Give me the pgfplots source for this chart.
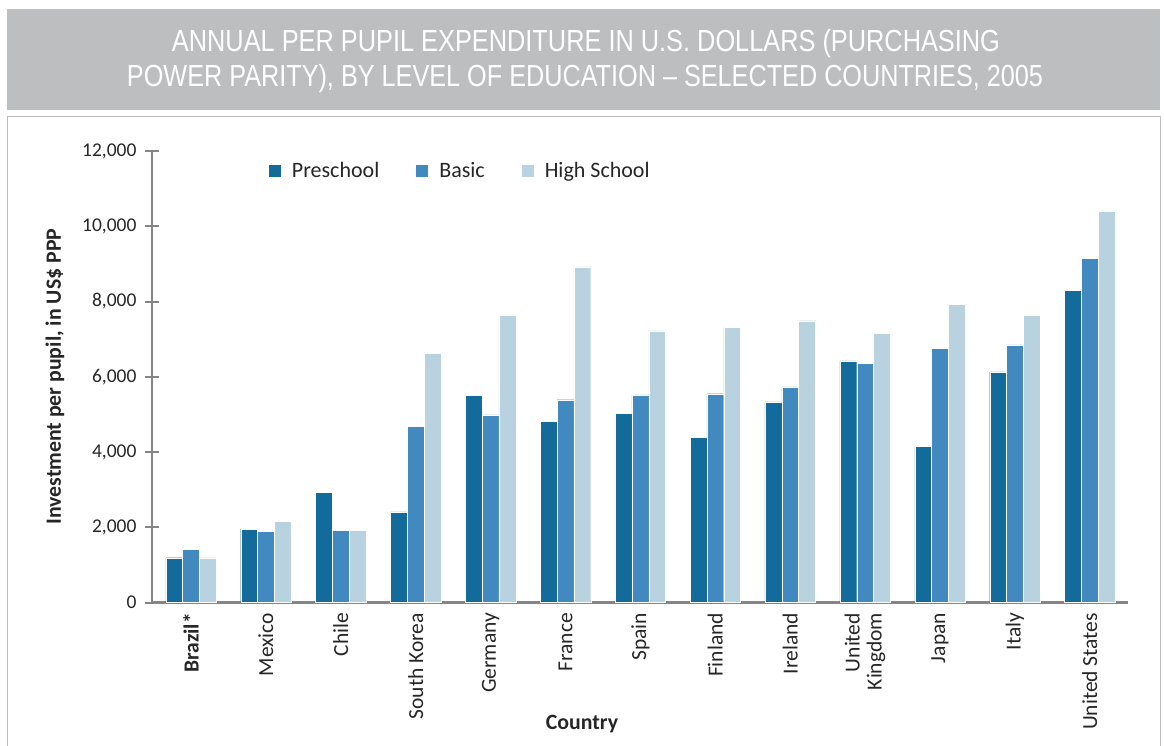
\documentclass[border=0pt]{standalone}
\usepackage{fontspec}
\setmainfont{Carlito}
\newfontfamily\titlefont{Liberation Sans}
\usepackage{graphicx}
\usepackage{pgfplots}
\usepackage{pgfplotstable}
\pgfplotsset{compat=1.18}
\definecolor{preC}{HTML}{126B9A}
\definecolor{basC}{HTML}{4189BE}
\definecolor{hsC}{HTML}{B9D2DF}
\definecolor{axgray}{HTML}{858585}
\definecolor{bannergray}{HTML}{BCBEC0}
\definecolor{framegray}{HTML}{BDBDBD}
\definecolor{txt}{HTML}{262626}

\pgfplotstableread{
x pre basic hs
0  1190 1420 1190
1  1950 1890 2160
2  2930 1920 1920
3  2410 4690 6620
4  5500 4990 7640
5  4820 5390 8920
6  5020 5520 7220
7  4390 5550 7320
8  5330 5730 7490
9  6420 6350 7150
10 4150 6750 7920
11 6130 6850 7640
12 8300 9150 10390
}\datatable

\begin{document}
\begin{tikzpicture}[x=1pt,y=1pt]
\path[use as bounding box] (0,0) rectangle (1164,-746);
% banner
\fill[bannergray] (7,-9) rectangle (1160,-110);
\node[text=white, inner sep=0pt] at (586,-44) {\resizebox{828pt}{\height}{\titlefont\fontsize{30.5}{36}\selectfont ANNUAL PER PUPIL EXPENDITURE IN U.S. DOLLARS (PURCHASING}};
\node[text=white, inner sep=0pt] at (585,-79) {\resizebox{916pt}{\height}{\titlefont\fontsize{30.5}{36}\selectfont POWER PARITY), BY LEVEL OF EDUCATION – SELECTED COUNTRIES, 2005}};
% frame
\draw[framegray, line width=1.5pt] (7.5,-760) -- (7.5,-116.5) -- (1160.5,-116.5) -- (1160.5,-760);
\begin{axis}[
  at={(152pt,-602.5pt)}, anchor=south west,
  scale only axis, width=976pt, height=451.5pt,
  xmin=-0.52, xmax=12.51, ymin=0, ymax=12000,
  ybar=0pt, bar width=16.8pt,
  axis x line*=bottom, axis y line*=left,
  axis line style={draw=axgray, line width=2.5pt},
  xtick=data,
  xticklabels={\textbf{Brazil*},Mexico,Chile,South Korea,Germany,France,Spain,Finland,Ireland,{United\\Kingdom},Japan,Italy,United States},
  x tick style={draw=none},
  ytick={0,2000,...,12000},
  y tick style={draw=axgray, line width=2pt},
  tick align=center, major tick length=14pt,
  /pgf/number format/assume math mode=true,
  /pgf/number format/1000 sep={,},
  scaled y ticks=false,
  yticklabel style={font=\fontsize{19.5}{22}\selectfont, text=txt, xshift=-5pt},
  xticklabel style={font=\fontsize{21.5}{22}\selectfont, text=txt, rotate=90, anchor=east, align=right},
  ylabel={\textbf{Investment per pupil, in US\$ PPP}},
  ylabel style={at={(axis description cs:-0.0994,0.5)}, anchor=center, font=\fontsize{21.8}{24}\selectfont, text=txt},
  xlabel={\textbf{Country}},
  xlabel style={at={(axis description cs:0.4406,-0.269)}, anchor=center, font=\fontsize{21.8}{24}\selectfont, text=txt},
  legend style={at={(axis description cs:0.1165,0.956)}, anchor=west, draw=none, fill=none,
    font=\fontsize{22}{24}\selectfont, text=txt, legend columns=3,
    /tikz/every odd column/.append style={column sep=9pt},
    /tikz/every even column/.append style={column sep=35pt}},
  legend image code/.code={\fill[#1,draw=none] (0pt,-6pt) rectangle (12pt,6pt);},
  clip=false,
]
\addplot[fill=preC, draw=white, line width=0.3pt] table[x=x,y=pre] {\datatable};
\addplot[fill=basC, draw=white, line width=0.3pt] table[x=x,y=basic] {\datatable};
\addplot[fill=hsC, draw=white, line width=0.3pt] table[x=x,y=hs] {\datatable};
\legend{Preschool,Basic,High School}
\end{axis}
\end{tikzpicture}
\end{document}
